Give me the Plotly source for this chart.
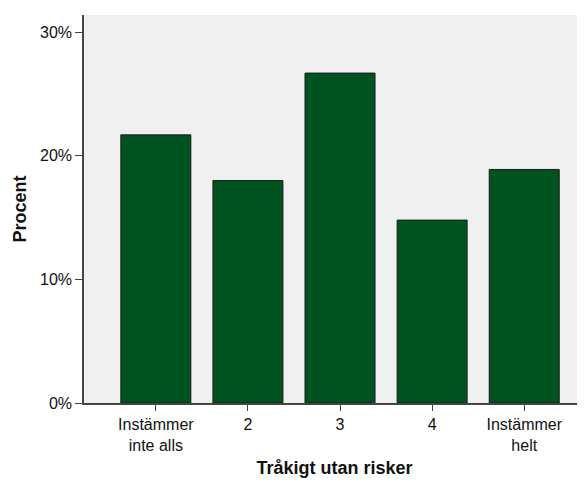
import plotly.graph_objects as go

categories = ["Instämmer<br>inte alls", "2", "3", "4", "Instämmer<br>helt"]
percent = [21.7, 18.0, 26.7, 14.8, 18.9]
y_ticks = [0, 10, 20, 30]
y_tick_labels = ["0%", "10%", "20%", "30%"]

fig = go.Figure()
fig.add_trace(go.Bar(
    x=list(range(len(categories))),
    y=percent,
    width=0.76,
    marker=dict(color="#00531F", line=dict(color="#1a1a1a", width=1)),
    hoverinfo="skip",
))

font = "Liberation Sans, Arial, sans-serif"
# the page body adds an 8px margin, so the figure is sized to fit inside the window
fig.update_layout(
    width=577, height=472,
    margin=dict(l=76, r=0, t=7, b=77),
    paper_bgcolor="white",
    plot_bgcolor="#F0F0F0",
    showlegend=False,
    font=dict(family=font, size=16, color="#111111"),
    xaxis=dict(
        range=[-0.78, 4.66],
        tickmode="array",
        tickvals=list(range(len(categories))),
        ticktext=categories,
        ticks="outside", ticklen=6, tickcolor="#444444",
        showline=True, linecolor="#444444", linewidth=1.5,
        showgrid=False, zeroline=False,
        tickfont=dict(family=font, size=16, color="#111111"),
        title=dict(text="<b>Tråkigt utan risker</b>", font=dict(family=font, size=18, color="#111111"), standoff=9),
    ),
    yaxis=dict(
        range=[0, 31.4],
        tickmode="array",
        tickvals=y_ticks,
        ticktext=y_tick_labels,
        ticks="outside", ticklen=7, tickcolor="#444444",
        showline=True, linecolor="#444444", linewidth=1.5,
        showgrid=False, zeroline=False,
        tickfont=dict(family=font, size=16, color="#111111"),
        title=dict(text="<b>Procent</b>", font=dict(family=font, size=18, color="#111111"), standoff=9),
    ),
)

fig.write_html("out.html")
